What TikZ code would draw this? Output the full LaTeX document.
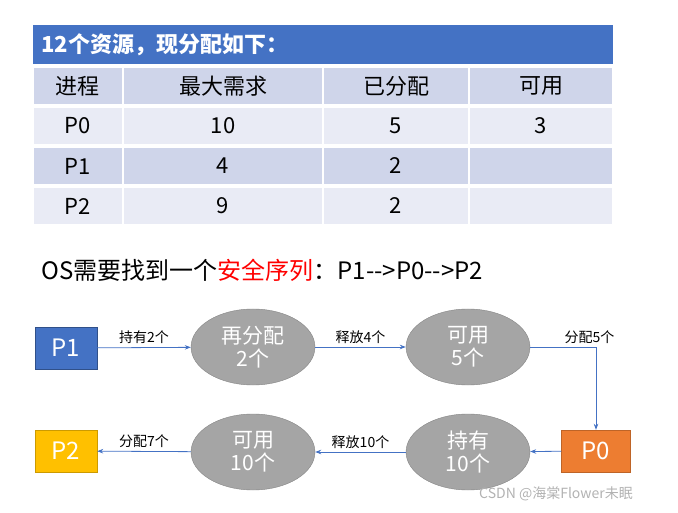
\documentclass[tikz,border=0pt]{standalone}
\usepackage{fontspec}
\setmainfont{Noto Sans CJK SC}
\usetikzlibrary{shapes.geometric,arrows.meta}
\definecolor{hdr}{HTML}{4472C4}
\definecolor{cA}{HTML}{CFD5EA}
\definecolor{cB}{HTML}{E9EBF5}
\definecolor{ell}{HTML}{A5A5A5}
\definecolor{org}{HTML}{ED7D31}
\definecolor{yel}{HTML}{FFC000}
\begin{document}
\begin{tikzpicture}[x=1pt,y=-1pt,
 cell/.style={draw=white,line width=1.5pt,minimum height=38pt,inner sep=0pt,font=\fontsize{22}{22}\selectfont},
 box/.style={draw=hdr!70!black,minimum width=62pt,minimum height=42pt,font=\fontsize{24}{24}\selectfont,inner sep=0pt},
 el/.style={ellipse,draw=ell!80!black,fill=ell,minimum width=124pt,minimum height=76pt,text=white,align=center,font=\fontsize{21}{23}\selectfont,inner sep=0pt},
 arr/.style={draw=hdr,-{Stealth[length=6pt]},line width=0.8pt},
 lab/.style={font=\fontsize{14}{14}\selectfont,above}]
\useasboundingbox (0,0) rectangle (678,513);
\node[fill=hdr,minimum width=580pt,minimum height=39pt,anchor=north west,inner sep=0pt] (title) at (33,25) {};
\node[anchor=west,text=white,font=\bfseries\fontsize{22}{22}\selectfont] (tt) at (38,45) {12个资源，现分配如下：};
\foreach \r/\y/\c/\a/\b/\cc/\d in {h/86/cA/进程/最大需求/已分配/可用, p0/126/cB/P0/10/5/3, p1/166/cA/P1/4/2/{}, p2/206/cB/P2/9/2/{}}{
 \node[cell,fill=\c,minimum width=90pt] (\r a) at (78,\y) {\a};
 \node[cell,fill=\c,minimum width=200pt] (\r b) at (223,\y) {\b};
 \node[cell,fill=\c,minimum width=146pt] (\r c) at (396,\y) {\cc};
 \node[cell,fill=\c,minimum width=144pt] (\r d) at (541,\y) {\d};
}
\node[anchor=west,font=\fontsize{24}{24}\selectfont] (os) at (38,270) {OS需要找到一个\textcolor{red}{安全序列}：P1-{}-{}>P0-{}-{}>P2};
\node[box,fill=hdr,text=white] (P1) at (66,348) {P1};
\node[el] (e1) at (253,347) {再分配\\2个};
\node[el] (e2) at (468,347) {可用\\5个};
\node[box,fill=org,draw=org!80!black,text=white,minimum width=69pt] (P0) at (596,451) {P0};
\node[el] (e4) at (468,452) {持有\\10个};
\node[el] (e3) at (253,452) {可用\\10个};
\node[box,fill=yel,draw=yel!80!black,text=white] (P2) at (66,451) {P2};
\draw[arr] (P1) -- node[lab]{持有2个} (e1);
\draw[arr] (e1) -- node[lab]{释放4个} (e2);
\draw[arr] (e2) -| node[lab,pos=0.45]{分配5个} (P0);
\draw[arr] (P0) -- (e4);
\draw[arr] (e4) -- node[lab]{释放10个} (e3);
\draw[arr] (e3) -- node[lab]{分配7个} (P2);
\node[text=gray!60,font=\fontsize{14}{14}\selectfont] (wm) at (556,494) {CSDN @海棠Flower未眠};
\end{tikzpicture}
\end{document}
